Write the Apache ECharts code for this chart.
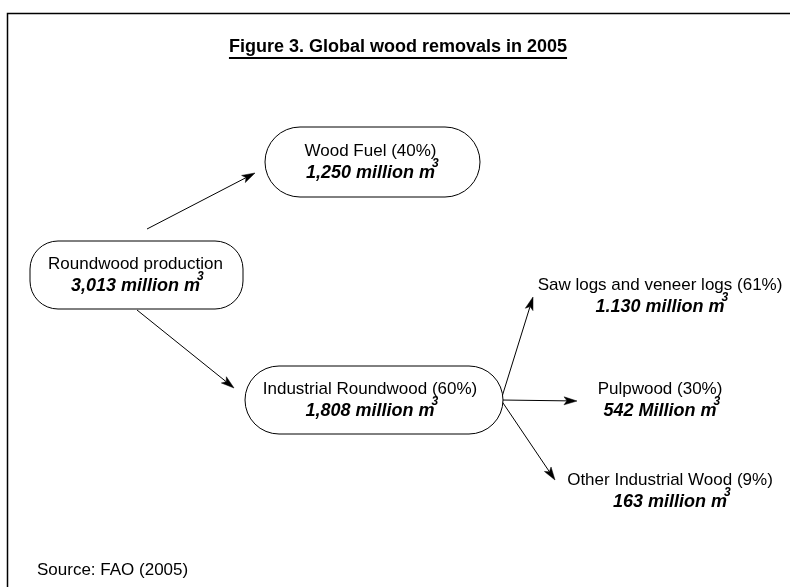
<!DOCTYPE html>
<html>
<head>
<meta charset="utf-8">
<script src="https://cdn.jsdelivr.net/npm/echarts@6/dist/echarts.min.js"></script>
<style>
html,body{margin:0;padding:0;background:#fff;}
#chart{width:790px;height:587px;}
</style>
</head>
<body>
<div id="chart"></div>
<script>
// ---- data ----
const titleText = 'Figure 3. Global wood removals in 2005';
const sourceText = 'Source: FAO (2005)';
const nodeTitles = ['Roundwood production', 'Wood Fuel', 'Industrial Roundwood', 'Saw logs and veneer logs', 'Pulpwood', 'Other Industrial Wood'];
const nodeShares = [null, 40, 60, 61, 30, 9];
const nodeVolumes = ['3,013', '1,250', '1,808', '1.130', '542', '163'];
const volumeUnits = ['million', 'million', 'million', 'million', 'Million', 'million'];
const volumeExp = '3';
const links = [[0, 1], [0, 2], [2, 3], [2, 4], [2, 5]];

// ---- layout (diagram space, separate from data) ----
const nodeLayout = [
  {x: 136.5, y: 275, w: 213, h: 68, r: 28, box: true, tx: 135.5},
  {x: 372.5, y: 162, w: 215, h: 70, r: 35, box: true, tx: 370.5},
  {x: 374, y: 400, w: 258, h: 68, r: 34, box: true, tx: 370},
  {x: 660, y: 296.5, box: false, tx: 660},
  {x: 660, y: 400, box: false, tx: 660},
  {x: 670, y: 491, box: false, tx: 670}
];
const linkLayout = [
  [147, 229, 255, 173],
  [137, 310, 234, 388],
  [501, 400, 533, 297],
  [501, 400, 577, 401],
  [501, 400, 555, 480]
];

const FONT = '"Liberation Sans", Arial, sans-serif';
const ctx = document.createElement('canvas').getContext('2d');
function textWidth(font, s) { ctx.font = font; return ctx.measureText(s).width; }

function label1(i) {
  return nodeTitles[i] + (nodeShares[i] != null ? ' (' + nodeShares[i] + '%)' : '');
}
function label2(i) {
  return nodeVolumes[i] + ' ' + volumeUnits[i] + ' m';
}

function renderNode(params, api) {
  const i = api.value(2);
  const L = nodeLayout[i];
  const c = api.coord([api.value(0), api.value(1)]);
  const children = [];
  if (L.box) {
    const s = api.size([L.w, L.h]);
    children.push({
      type: 'rect',
      shape: {x: c[0] - s[0] / 2, y: c[1] - s[1] / 2, width: s[0], height: s[1], r: L.r},
      style: {fill: '#fff', stroke: '#000', lineWidth: 1}
    });
  }
  const t = api.coord([L.tx, api.value(1)]);
  const l2 = label2(i);
  const boldFont = 'italic bold 18px ' + FONT;
  const w2 = textWidth(boldFont, l2);
  children.push({
    type: 'text',
    style: {text: label1(i), x: t[0], y: t[1] - 11, align: 'center', verticalAlign: 'middle',
      fontSize: 17, fontFamily: FONT, fill: '#000'}
  });
  children.push({
    type: 'text',
    style: {text: l2, x: t[0], y: t[1] + 11, align: 'center', verticalAlign: 'middle',
      fontSize: 18, fontWeight: 'bold', fontStyle: 'italic', fontFamily: FONT, fill: '#000'}
  });
  children.push({
    type: 'text',
    style: {text: volumeExp, x: t[0] + w2 / 2 - 3, y: t[1] + 1.5, align: 'left', verticalAlign: 'middle',
      fontSize: 12, fontWeight: 'bold', fontStyle: 'italic', fontFamily: FONT, fill: '#000'}
  });
  return {type: 'group', children: children};
}

function renderEdge(params, api) {
  const p1 = api.coord([api.value(0), api.value(1)]);
  const p2 = api.coord([api.value(2), api.value(3)]);
  const dx = p2[0] - p1[0], dy = p2[1] - p1[1];
  const len = Math.sqrt(dx * dx + dy * dy);
  const ux = dx / len, uy = dy / len;
  const nx = -uy, ny = ux;
  const HL = 13, HW = 4, NOTCH = 10;
  const b = [p2[0] - ux * HL, p2[1] - uy * HL];
  const n = [p2[0] - ux * NOTCH, p2[1] - uy * NOTCH];
  return {
    type: 'group',
    children: [
      {type: 'line', shape: {x1: p1[0], y1: p1[1], x2: n[0], y2: n[1]}, style: {stroke: '#000', lineWidth: 1}},
      {type: 'polygon', shape: {points: [p2, [b[0] + nx * HW, b[1] + ny * HW], n, [b[0] - nx * HW, b[1] - ny * HW]]},
        style: {fill: '#000', stroke: '#000', lineWidth: 0.5}}
    ]
  };
}

const chart = echarts.init(document.getElementById('chart'), null, {renderer: 'canvas'});
const titleW = textWidth('bold 18px ' + FONT, titleText);
const titleX = 398;

chart.setOption({
  animation: false,
  backgroundColor: '#fff',
  grid: {left: 0, right: 0, top: 0, bottom: 0},
  xAxis: {type: 'value', min: 0, max: 790, show: false},
  yAxis: {type: 'value', min: 0, max: 587, inverse: true, show: false},
  graphic: [
    {type: 'rect', z: -10, shape: {x: 7.5, y: 13.5, width: 900, height: 700},
      style: {fill: '#fff', stroke: '#000', lineWidth: 1.5}},
    {type: 'text', style: {text: titleText, x: titleX, y: 47, align: 'center', verticalAlign: 'middle',
      fontSize: 18, fontWeight: 'bold', fontFamily: FONT, fill: '#000'}},
    {type: 'line', shape: {x1: titleX - titleW / 2, y1: 58, x2: titleX + titleW / 2, y2: 58},
      style: {stroke: '#000', lineWidth: 2}},
    {type: 'text', style: {text: sourceText, x: 37, y: 570, align: 'left', verticalAlign: 'middle',
      fontSize: 17, fontFamily: FONT, fill: '#000'}}
  ],
  series: [
    {
      type: 'custom',
      name: 'links',
      renderItem: renderEdge,
      encode: {x: [0, 2], y: [1, 3]},
      data: links.map((lk, k) => linkLayout[k].concat([lk[0], lk[1]])),
      z: 1
    },
    {
      type: 'custom',
      name: 'nodes',
      renderItem: renderNode,
      encode: {x: 0, y: 1},
      data: nodeLayout.map((L, i) => [L.x, L.y, i]),
      z: 2
    }
  ]
});
</script>
</body>
</html>
